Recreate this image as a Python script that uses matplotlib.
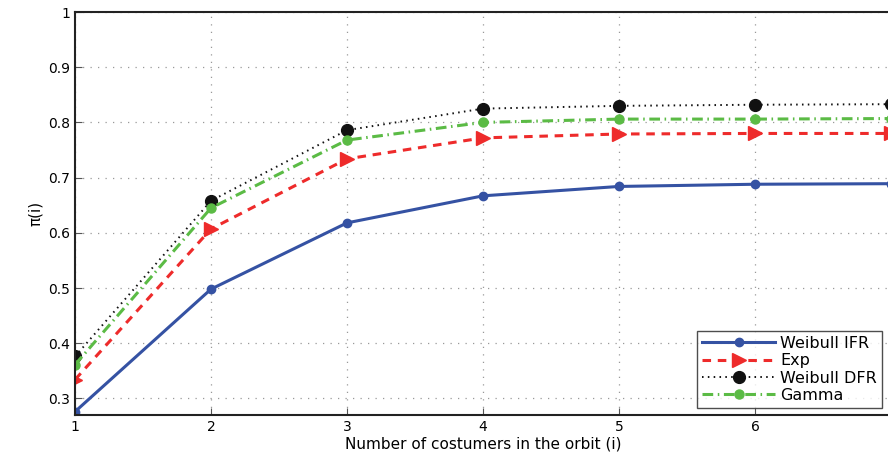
import numpy as np
import matplotlib
matplotlib.use('Agg')
import matplotlib.pyplot as plt

orbit = [1, 2, 3, 4, 5, 6, 7]
weibull_ifr = [0.276, 0.498, 0.618, 0.667, 0.684, 0.688, 0.689]
exp_dist = [0.334, 0.607, 0.734, 0.772, 0.779, 0.780, 0.780]
weibull_dfr = [0.376, 0.658, 0.786, 0.825, 0.830, 0.832, 0.833]
gamma = [0.361, 0.645, 0.768, 0.800, 0.806, 0.806, 0.807]

yticks = [0.3, 0.4, 0.5, 0.6, 0.7, 0.8, 0.9, 1]
ytick_labels = ['0.3', '0.4', '0.5', '0.6', '0.7', '0.8', '0.9', '1']

plt.rcParams['font.family'] = ['DejaVu Sans']

fig = plt.figure(figsize=(8.88, 4.62), dpi=100)
ax = fig.add_axes([75/888, 1-415/462, 816/888, 403/462])

ax.plot(orbit, weibull_ifr, '-', color='#3552a3', lw=2.2, marker='o', ms=6, label='Weibull IFR')
ax.plot(orbit, exp_dist, color='#ee2b2b', lw=2.2, ls=(0, (2.8, 2.2)), marker='>', ms=10, label='Exp')
ax.plot(orbit, weibull_dfr, color='#111111', lw=1.4, ls=(0, (0.8, 2.2)), marker='o', ms=8.5, label='Weibull DFR')
ax.plot(orbit, gamma, color='#5bbb45', lw=2.2, ls=(0, (3.5, 1.5, 0.5, 1.5)), marker='o', ms=6.5, label='Gamma')

ax.set_xlim(1, 7)
ax.set_ylim(0.27, 1)
ax.set_xticks([1, 2, 3, 4, 5, 6])
ax.set_yticks(yticks)
ax.set_yticklabels(ytick_labels)
ax.tick_params(direction='in', labelsize=10, length=5, color='#555555')
ax.grid(True, linestyle=(0, (1, 5)), color='#999999', lw=0.9)
for s in ax.spines.values():
    s.set_linewidth(1.5)
    s.set_color('#222222')

ax.set_xlabel('Number of costumers in the orbit (i)', fontsize=11, labelpad=2)
ax.set_ylabel('π(i)', fontsize=11)

leg = ax.legend(loc='lower right', bbox_to_anchor=(810/816, 0.01), fontsize=11.5,
                frameon=True, fancybox=False, edgecolor='#222222',
                handlelength=4.6, borderpad=0.3, labelspacing=0.15, handletextpad=0.3,
                borderaxespad=0.2)
leg.get_frame().set_linewidth(1.0)

plt.savefig('out.png', dpi=100)
